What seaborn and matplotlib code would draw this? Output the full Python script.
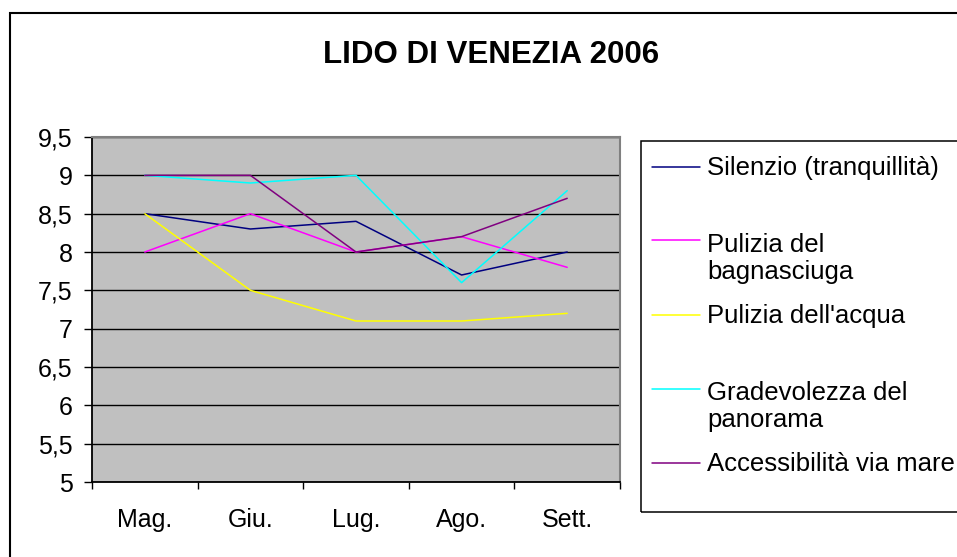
import pandas as pd
import seaborn as sns
import matplotlib.pyplot as plt
from matplotlib.lines import Line2D
from matplotlib.patches import Rectangle
from matplotlib.ticker import FuncFormatter, MultipleLocator, FixedLocator

# --- data ---
months = ['Mag.', 'Giu.', 'Lug.', 'Ago.', 'Sett.']
silenzio = [8.5, 8.3, 8.4, 7.7, 8.0]
pulizia_bagnasciuga = [8.0, 8.5, 8.0, 8.2, 7.8]
pulizia_acqua = [8.5, 7.5, 7.1, 7.1, 7.2]
gradevolezza = [9.0, 8.9, 9.0, 7.6, 8.8]
accessibilita = [9.0, 9.0, 8.0, 8.2, 8.7]

series_names = ['Silenzio (tranquillità)', 'Pulizia del\nbagnasciuga',
                "Pulizia dell'acqua", 'Gradevolezza del\npanorama',
                'Accessibilità via mare']
series_values = [silenzio, pulizia_bagnasciuga, pulizia_acqua, gradevolezza, accessibilita]
colors = ['#000080', '#FF00FF', '#FFFF00', '#00FFFF', '#800080']

rows = []
for name, vals in zip(series_names, series_values):
    for m, v in zip(months, vals):
        rows.append({'mese': m, 'voto': v, 'serie': name})
df = pd.DataFrame(rows)

sns.set_style('white')
plt.rcParams['font.family'] = ['Liberation Sans', 'DejaVu Sans']
plt.rcParams['text.color'] = 'black'
plt.rcParams['xtick.color'] = 'black'
plt.rcParams['ytick.color'] = 'black'

W, H = 957, 557
fig = plt.figure(figsize=(W / 100, H / 100), dpi=100)


def fx(px):
    return px / W


def fy(py):
    return 1 - py / H


# outer chart border
fig.add_artist(Rectangle((fx(10), fy(600)), fx(1000) - fx(10), fy(13) - fy(600),
                         transform=fig.transFigure, fill=False, ec='black', lw=1.5))

ax = fig.add_axes([fx(92), fy(482), fx(620) - fx(92), fy(137) - fy(482)])
ax.set_facecolor('#C0C0C0')

sns.lineplot(data=df, x='mese', y='voto', hue='serie', palette=dict(zip(series_names, colors)),
             sort=False, legend=False, lw=1.1, ax=ax)

ax.set_xlim(-0.5, len(months) - 0.5)
ax.set_ylim(5, 9.5)
ax.set_xlabel('')
ax.set_ylabel('')

ax.yaxis.set_major_locator(MultipleLocator(0.5))
ax.yaxis.set_major_formatter(FuncFormatter(lambda v, _: f'{v:g}'.replace('.', ',')))
ax.xaxis.set_minor_locator(FixedLocator([i - 0.5 for i in range(len(months) + 1)]))

ax.tick_params(axis='y', which='major', direction='out', length=6, width=1,
               color='black', labelsize=18, labelcolor='black', pad=8, left=True)
ax.tick_params(axis='x', which='major', length=0, labelsize=18, labelcolor='black',
               pad=19, bottom=True)
ax.tick_params(axis='x', which='minor', direction='out', length=5, width=1,
               color='black', bottom=True)

ax.set_axisbelow(True)
ax.yaxis.grid(True, color='black', lw=1)
ax.xaxis.grid(False)

for side in ['left', 'bottom']:
    ax.spines[side].set_color('black')
    ax.spines[side].set_linewidth(1.3)
for side in ['top', 'right']:
    ax.spines[side].set_color('#808080')
    ax.spines[side].set_linewidth(1.5)

fig.text(fx(491), fy(55), 'LIDO DI VENEZIA 2006', ha='center', va='center',
         fontsize=22.5, fontweight='bold', color='black')

# legend box, Excel style (handle beside first text line)
fig.add_artist(Rectangle((fx(641), fy(512)), fx(1000) - fx(641), fy(141) - fy(512),
                         transform=fig.transFigure, fill=False, ec='black', lw=1.1))
line_step = 30
for i, line in enumerate(ax.get_lines()[:len(series_names)]):
    base = 175 + i * 74
    n_extra = series_names[i].count('\n')
    fig.add_artist(Line2D([fx(652), fx(700)], [fy(base - 8.5)] * 2, transform=fig.transFigure,
                          color=line.get_color(), lw=1.1))
    # matplotlib anchors the last line's baseline, so push multi-line labels down
    fig.text(fx(707), fy(base + n_extra * line_step), series_names[i], ha='left',
             va='baseline', fontsize=18.5, linespacing=1.18, color='black')

fig.savefig('out.png', dpi=100)
